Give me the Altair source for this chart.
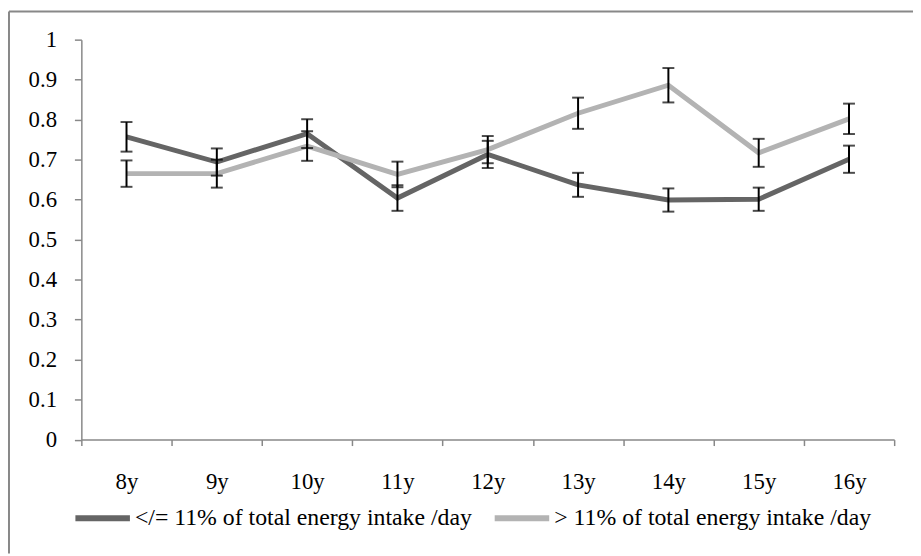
import altair as alt
import pandas as pd

ages = ["8y", "9y", "10y", "11y", "12y", "13y", "14y", "15y", "16y"]
series_names = ["</= 11% of total energy intake /day", "> 11% of total energy intake /day"]
low_values = [0.757, 0.694, 0.765, 0.604, 0.713, 0.637, 0.599, 0.601, 0.701]
low_err = [0.037, 0.034, 0.036, 0.032, 0.034, 0.030, 0.029, 0.029, 0.034]
high_values = [0.665, 0.665, 0.734, 0.663, 0.725, 0.816, 0.886, 0.717, 0.802]
high_err = [0.033, 0.035, 0.037, 0.032, 0.034, 0.039, 0.043, 0.035, 0.038]
colors = ["#656565", "#b3b3b3"]

rows = []
for name, vals, errs in [(series_names[0], low_values, low_err), (series_names[1], high_values, high_err)]:
    for a, v, e in zip(ages, vals, errs):
        rows.append({"age": a, "series": name, "value": v, "lo": v - e, "hi": v + e})
df = pd.DataFrame(rows)

FONT = "Liberation Serif"
W, H = 820, 403.5
PAD = {"left": 74, "top": 29.5, "right": 19, "bottom": 115}

x_enc = alt.X("age:N", sort=ages, title=None,
              scale=alt.Scale(paddingInner=0, paddingOuter=0),
              axis=alt.Axis(labelAngle=0, tickBand="extent", domainColor="#888888",
                            tickColor="#888888", tickSize=6, domainWidth=1.5, tickWidth=1.5,
                            labelFont=FONT, labelFontSize=23, labelColor="black",
                            labelPadding=25))

base = alt.Chart(df)

lines = base.mark_line(strokeWidth=5).encode(
    x=x_enc,
    y=alt.Y("value:Q", title=None,
            scale=alt.Scale(domain=[0, 1], nice=False),
            axis=alt.Axis(values=[i / 10 for i in range(11)], format=".1~f", grid=False,
                          domainColor="#888888", tickColor="#888888", tickSize=7,
                          domainWidth=1.5, tickWidth=1.5,
                          labelFont=FONT, labelFontSize=23, labelColor="black",
                          labelPadding=18)),
    color=alt.Color("series:N", sort=series_names, title=None,
                    scale=alt.Scale(domain=series_names, range=colors),
                    legend=alt.Legend(orient="none", direction="horizontal",
                                      legendX=-9, legendY=452,
                                      symbolType="stroke", symbolSize=3025,
                                      symbolStrokeWidth=6, labelFont=FONT,
                                      labelFontSize=24, labelColor="black",
                                      labelLimit=600, columnPadding=10,
                                      labelOffset=2)),
)

rules = base.mark_rule(color="black", strokeWidth=2).encode(
    x=alt.X("age:N", sort=ages), y="lo:Q", y2="hi:Q")
tick_hi = base.mark_tick(color="black", orient="horizontal", size=12, thickness=2).encode(
    x=alt.X("age:N", sort=ages), y="hi:Q")
tick_lo = base.mark_tick(color="black", orient="horizontal", size=12, thickness=2).encode(
    x=alt.X("age:N", sort=ages), y="lo:Q")

border_top = alt.Chart(pd.DataFrame({"k": [0]})).mark_rule(color="#888888", strokeWidth=2).encode(
    x=alt.value(-73), x2=alt.value(W + PAD["right"]), y=alt.value(-28.5))
border_left = alt.Chart(pd.DataFrame({"k": [0]})).mark_rule(color="#888888", strokeWidth=2).encode(
    x=alt.value(-73), y=alt.value(-28.5), y2=alt.value(H + PAD["bottom"]))

chart = alt.layer(lines, rules, tick_hi, tick_lo, border_top, border_left).properties(
    width=W, height=H,
    autosize=alt.AutoSizeParams(type="none"),
    padding=PAD,
).configure_view(stroke=None)

chart.save("out.html", embed_options={"renderer": "svg", "actions": False})
